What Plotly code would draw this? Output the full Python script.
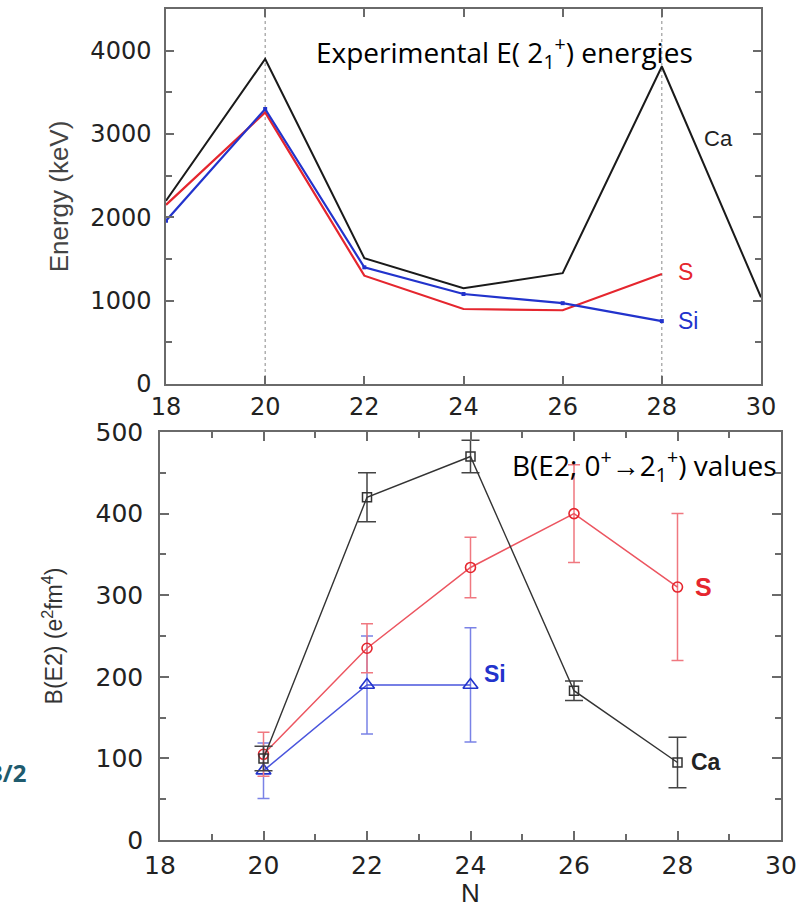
import plotly.graph_objects as go

# ---------------- data ----------------
N_top = [18, 20, 22, 24, 26, 28, 30]
E_Ca = [2200, 3900, 1510, 1150, 1330, 3810, 1040]
N_S_top = [18, 20, 22, 24, 26, 28]
E_S = [2150, 3260, 1300, 900, 885, 1320]
N_Si_top = [18, 20, 22, 24, 26, 28]
E_Si = [1960, 3300, 1400, 1080, 970, 755]

N_Ca_be2 = [20, 22, 24, 26, 28]
BE2_Ca = [100, 420, 470, 183, 95]
BE2_Ca_err = [15, 30, 20, 12, 31]
N_S_be2 = [20, 22, 24, 26, 28]
BE2_S = [105, 235, 334, 400, 310]
BE2_S_err = [27, 30, 37, 60, 90]
N_Si_be2 = [20, 22, 24]
BE2_Si = [85, 190, 190]
BE2_Si_err = [34, 60, 70]

shell_closures = [20, 28]

BLACK = "#1a1a1a"
RED = "#e5262e"
BLUE = "#2233cc"
RED_L = "#ec5560"
BLUE_L = "#4a55dd"
GRID = "#6a6a6a"
TICKFONT_T = dict(family="DejaVu Sans", size=24, color="#222")
TICKFONT_B = dict(family="DejaVu Sans", size=25, color="#222")

W, H = 812, 908

fig = go.Figure()

# top panel lines
fig.add_trace(go.Scatter(x=N_top, y=E_Ca, mode="lines", line=dict(color=BLACK, width=2),
                         xaxis="x", yaxis="y", showlegend=False))
fig.add_trace(go.Scatter(x=N_S_top, y=E_S, mode="lines", line=dict(color=RED, width=2.2),
                         xaxis="x", yaxis="y", showlegend=False))
fig.add_trace(go.Scatter(x=N_Si_top, y=E_Si, mode="lines+markers", line=dict(color=BLUE, width=2.2),
                         marker=dict(size=4, symbol="square", color=BLUE),
                         xaxis="x", yaxis="y", showlegend=False))

# bottom panel
fig.add_trace(go.Scatter(x=N_Si_be2, y=BE2_Si, mode="lines+markers",
                         line=dict(color=BLUE_L, width=1.5),
                         marker=dict(symbol="triangle-up-open", size=13, color=BLUE, line=dict(width=1.6)),
                         error_y=dict(type="data", array=BE2_Si_err, color="#7a82e6", thickness=1.5, width=6),
                         xaxis="x2", yaxis="y2", showlegend=False))
fig.add_trace(go.Scatter(x=N_S_be2, y=BE2_S, mode="lines+markers",
                         line=dict(color=RED_L, width=1.5),
                         marker=dict(symbol="circle-open", size=10, color=RED, line=dict(width=1.6)),
                         error_y=dict(type="data", array=BE2_S_err, color="#f07880", thickness=1.5, width=6),
                         xaxis="x2", yaxis="y2", showlegend=False))
fig.add_trace(go.Scatter(x=N_Ca_be2, y=BE2_Ca, mode="lines+markers",
                         line=dict(color="#333", width=1.4),
                         marker=dict(symbol="square-open", size=9, color="#333", line=dict(width=1.5)),
                         error_y=dict(type="data", array=BE2_Ca_err, color="#444", thickness=1.5, width=9),
                         xaxis="x2", yaxis="y2", showlegend=False))

# dotted vertical lines at shell closures (top panel)
for n in shell_closures:
    fig.add_shape(type="line", xref="x", yref="y domain", x0=n, x1=n, y0=0, y1=1,
                  line=dict(color="#888", width=1, dash="dot"), layer="below")

common_axis = dict(showline=True, linecolor=GRID, linewidth=1.5, mirror="ticks", automargin=False,
                   ticks="inside", tickcolor=GRID, tickwidth=1.5, showgrid=False, zeroline=False)

fig.update_layout(
    width=W, height=H,
    margin=dict(l=0, r=0, t=0, b=0, autoexpand=False),
    paper_bgcolor="white", plot_bgcolor="white",
    xaxis=dict(domain=[166 / W, 761 / W], range=[18, 30], dtick=2, ticklen=8,
               tickfont=TICKFONT_T, anchor="y", ticklabelstandoff=0, **common_axis),
    yaxis=dict(domain=[1 - 384 / H, 1 - 9 / H], range=[0, 4500], dtick=1000, ticklen=8,
               tickfont=TICKFONT_T, anchor="x", ticklabelstandoff=8,
               minor=dict(dtick=500, ticklen=6, tickcolor=GRID, ticks="inside"),
               title=dict(text="Energy (keV)", font=dict(family="Liberation Sans", size=26, color="#444"),
                          standoff=14),
               **common_axis),
    xaxis2=dict(domain=[160 / W, 781 / W], range=[18, 30], dtick=2, ticklen=9,
                tickfont=TICKFONT_B, anchor="y2", ticklabelstandoff=2,
                minor=dict(dtick=1, ticklen=6, tickcolor=GRID, ticks="inside"),
                title=dict(text="N", font=dict(family="Liberation Sans", size=26, color="#222"), standoff=10),
                **common_axis),
    yaxis2=dict(domain=[1 - 840 / H, 1 - 432 / H], range=[0, 500], dtick=100, ticklen=9,
                tickfont=TICKFONT_B, anchor="x2", ticklabelstandoff=10,
                minor=dict(dtick=50, ticklen=6, tickcolor=GRID, ticks="inside"),
                title=dict(text="B(E2) (e<sup>2</sup>fm<sup>4</sup>)",
                           font=dict(family="Liberation Sans", size=23, color="#333"), standoff=26),
                **common_axis),
)

ann = []
# panel titles
ann.append(dict(text="Experimental E( 2<sub>1</sub><sup>+</sup>) energies", xref="paper", yref="paper",
                x=695 / W, y=1 - 52 / H, xanchor="right", yanchor="middle", showarrow=False,
                font=dict(family="Open Sans", size=28, color="black")))
ann.append(dict(text="B(E2; 0<sup>+</sup>\u21922<sub>1</sub><sup>+</sup>) values", xref="paper", yref="paper",
                x=779 / W, y=1 - 465 / H, xanchor="right", yanchor="middle", showarrow=False,
                font=dict(family="Open Sans", size=28, color="black")))
# series labels top
ann.append(dict(text="Ca", x=28.8, y=2950, xref="x", yref="y", xanchor="left", yanchor="middle",
                showarrow=False, font=dict(family="Liberation Sans", size=22, color="#222")))
ann.append(dict(text="S", x=28.28, y=1350, xref="x", yref="y", xanchor="left", yanchor="middle",
                showarrow=False, font=dict(family="Liberation Sans", size=23, color=RED)))
ann.append(dict(text="Si", x=28.28, y=755, xref="x", yref="y", xanchor="left", yanchor="middle",
                showarrow=False, font=dict(family="Liberation Sans", size=23, color=BLUE)))
# series labels bottom
ann.append(dict(text="<b>Ca</b>", x=28.22, y=95, xref="x2", yref="y2", xanchor="left", yanchor="middle",
                showarrow=False, font=dict(family="Liberation Sans", size=23, color="#222")))
ann.append(dict(text="<b>S</b>", x=28.3, y=310, xref="x2", yref="y2", xanchor="left", yanchor="middle",
                showarrow=False, font=dict(family="Liberation Sans", size=25, color=RED)))
ann.append(dict(text="<b>Si</b>", x=24.22, y=204, xref="x2", yref="y2", xanchor="left", yanchor="middle",
                showarrow=False, font=dict(family="Liberation Sans", size=23, color=BLUE)))
# cut-off slide fragment at left edge
ann.append(dict(text="<b>3/2</b>", xref="paper", yref="paper", x=28 / W, y=1 - 772 / H,
                xanchor="right", yanchor="middle", showarrow=False,
                font=dict(family="Open Sans", size=24, color="#1f5b6e")))
fig.update_layout(annotations=ann)

fig.write_html("out.html", config={"displayModeBar": False},
               post_script="document.body.style.margin='0px';document.body.style.overflow='hidden';")
